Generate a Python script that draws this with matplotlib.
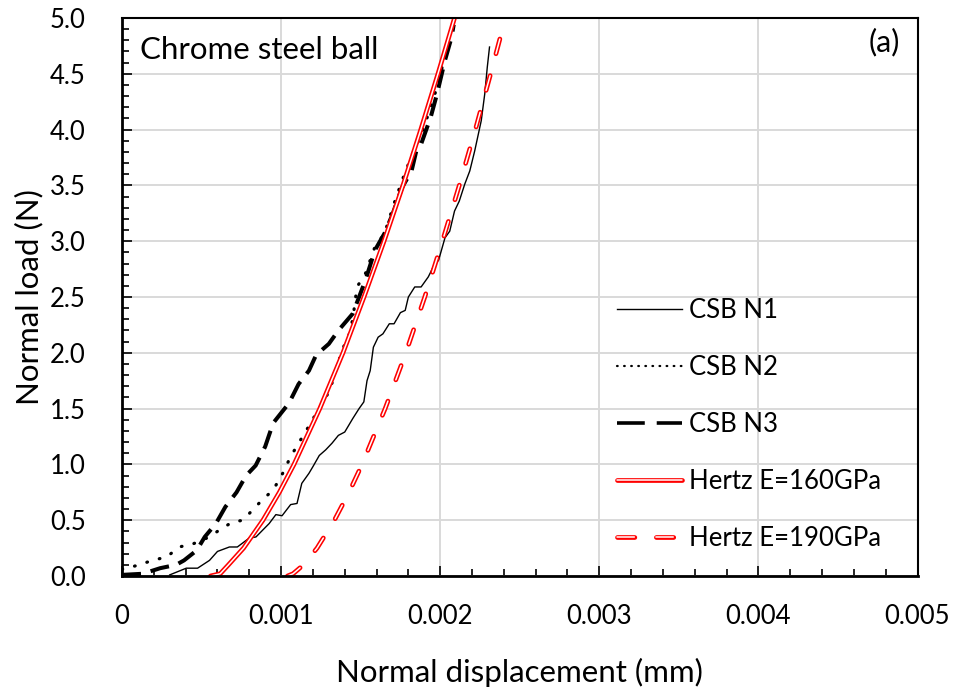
import matplotlib
matplotlib.use('Agg')
import matplotlib.pyplot as plt
from matplotlib.lines import Line2D
from matplotlib.legend_handler import HandlerTuple
from matplotlib.ticker import MultipleLocator

plt.rcParams['font.family'] = ['Lato', 'DejaVu Sans']
plt.rcParams['lines.scale_dashes'] = False

# CSB N1 (thin solid)
n1_x = [0.00030, 0.000404, 0.000475, 0.00055, 0.00060, 0.000675, 0.000725, 0.00080, 0.000842,
        0.000925, 0.000967, 0.001006, 0.00106, 0.00110, 0.00113, 0.001175, 0.00120, 0.00124,
        0.00128, 0.00132, 0.00136, 0.00140, 0.00145, 0.00149, 0.00152, 0.00154, 0.00156,
        0.00158, 0.00161, 0.00164, 0.00168, 0.00171, 0.00175, 0.00178, 0.00180, 0.00184,
        0.00188, 0.001925, 0.00196, 0.00199, 0.00203, 0.00206, 0.00209, 0.00212, 0.002154,
        0.002186, 0.002217, 0.002258, 0.00228, 0.002296, 0.00231]
n1_y = [0.01, 0.07, 0.07, 0.14, 0.22, 0.26, 0.26, 0.34, 0.35,
        0.47, 0.55, 0.54, 0.64, 0.65, 0.83, 0.92, 0.98, 1.08,
        1.13, 1.19, 1.26, 1.29, 1.41, 1.50, 1.56, 1.75, 1.84,
        2.05, 2.14, 2.17, 2.26, 2.26, 2.36, 2.38, 2.50, 2.59,
        2.59, 2.68, 2.78, 2.83, 3.03, 3.09, 3.27, 3.36, 3.51,
        3.63, 3.81, 4.08, 4.32, 4.56, 4.74]

# CSB N2 (dotted)
n2_x = [0.0, 0.00011, 0.00019, 0.00028, 0.00036, 0.00045, 0.00055, 0.00061, 0.00069, 0.00076,
        0.00082, 0.00088, 0.00095, 0.00101, 0.00106, 0.00111, 0.001165, 0.00123, 0.00127,
        0.00131, 0.00134, 0.00137, 0.00140, 0.001436, 0.001456, 0.001477, 0.00153, 0.00159,
        0.00165, 0.00172, 0.00177, 0.00183, 0.00188, 0.00194, 0.00198, 0.00203, 0.00207]
n2_y = [0.06, 0.10, 0.14, 0.17, 0.26, 0.29, 0.35, 0.41, 0.48, 0.50,
        0.59, 0.68, 0.77, 0.92, 1.07, 1.19, 1.32, 1.48, 1.57,
        1.68, 1.83, 1.96, 2.08, 2.19, 2.36, 2.59, 2.71, 2.95,
        3.07, 3.38, 3.58, 3.80, 3.95, 4.20, 4.38, 4.66, 4.86]

# CSB N3 (thick dashed)
n3_x = [0.0, 0.00013, 0.00024, 0.00034, 0.00039, 0.00047, 0.00052, 0.00059, 0.00065, 0.00072,
        0.00078, 0.00084, 0.00090, 0.00095, 0.00105, 0.00111, 0.001175, 0.00122, 0.00130,
        0.00136, 0.00145, 0.00149, 0.00153, 0.00159, 0.00165, 0.00170, 0.00176, 0.00182,
        0.00185, 0.00188, 0.00194, 0.00198, 0.00203, 0.00207, 0.002085]
n3_y = [0.01, 0.02, 0.07, 0.10, 0.14, 0.23, 0.35, 0.47, 0.62, 0.75,
        0.90, 0.99, 1.16, 1.37, 1.55, 1.72, 1.84, 1.98, 2.08,
        2.20, 2.35, 2.50, 2.65, 2.92, 3.07, 3.24, 3.48, 3.63,
        3.81, 3.87, 4.11, 4.32, 4.62, 4.82, 4.94]

# Hertz E=160GPa
h160_x = [0.000556, 0.000617, 0.000669, 0.000764, 0.000886, 0.000989, 0.001081, 0.001243,
          0.001389, 0.001521, 0.001647, 0.001766, 0.001878, 0.001986, 0.00209]
h160_y = [0.0, 0.02, 0.1, 0.25, 0.5, 0.75, 1.0, 1.5, 2.0, 2.5, 3.0, 3.5, 4.0, 4.5, 5.0]

# Hertz E=190GPa
h190_x = [0.00104, 0.001075, 0.001141, 0.001226, 0.001335, 0.001427, 0.001509, 0.001654,
          0.001784, 0.001903, 0.002014, 0.00212, 0.002221, 0.002317, 0.00241]
h190_y = [0.0, 0.02, 0.1, 0.25, 0.5, 0.75, 1.0, 1.5, 2.0, 2.5, 3.0, 3.5, 4.0, 4.5, 5.0]

red = '#ff0000'
h_dash = (0, (11, 16.3))
n3_dash = (0, (13.7, 7.2))
n2_dot = (0, (0.5, 8.8))

fig = plt.figure(figsize=(9.56, 6.93), dpi=100)
ax = fig.add_axes([122 / 956, 1 - 576 / 693, (917.5 - 122) / 956, (576 - 18) / 693])

ax.plot(n1_x, n1_y, color='black', lw=1.0)
ax.plot(n2_x, n2_y, color='black', lw=2.3, linestyle=n2_dot, dash_capstyle='round')
ax.plot(n3_x, n3_y, color='black', lw=2.9, linestyle=n3_dash, dash_capstyle='butt')
ax.plot(h160_x, h160_y, color=red, lw=3.4, solid_capstyle='round')
ax.plot(h160_x, h160_y, color='white', lw=1.1, solid_capstyle='round')
ax.plot(h190_x, h190_y, color=red, lw=3.4, linestyle=h_dash, dash_capstyle='round')
ax.plot(h190_x, h190_y, color='white', lw=1.1, linestyle=h_dash, dash_capstyle='round')

ax.set_xlim(0, 0.005)
ax.set_ylim(0, 5.0)
ax.xaxis.set_minor_locator(MultipleLocator(0.0002))
ax.yaxis.set_minor_locator(MultipleLocator(0.1))
ax.set_xticks([0, 0.001, 0.002, 0.003, 0.004, 0.005])
ax.set_xticklabels(['0', '0.001', '0.002', '0.003', '0.004', '0.005'])
ax.set_yticks([0.5 * i for i in range(11)])
ax.set_yticklabels(['%.1f' % (0.5 * i) for i in range(11)])

ax.grid(True, which='major', color='#d9d9d9', lw=1.4)
ax.set_axisbelow(True)
ax.tick_params(which='both', direction='in', top=False, right=False, color='black')
ax.tick_params(which='major', length=7, width=1.2, labelsize=18.5)
ax.tick_params(which='minor', length=5, width=1.2)
ax.tick_params(axis='x', which='major', pad=20)
ax.tick_params(axis='y', which='major', pad=26)
for s in ['left', 'bottom']:
    ax.spines[s].set_linewidth(2.0)
for s in ['top', 'right']:
    ax.spines[s].set_linewidth(1.5)

ax.set_xlabel('Normal displacement (mm)', fontsize=22.5, labelpad=21)
ax.set_ylabel('Normal load (N)', fontsize=22.5, labelpad=5)

ax.text(0.0225, 0.9267, 'Chrome steel ball', transform=ax.transAxes, fontsize=22.5, va='baseline')
ax.text(0.978, 0.956, '(a)', transform=ax.transAxes, fontsize=22, va='center', ha='right')

hd_n1 = Line2D([], [], color='black', lw=1.0)
hd_n2 = Line2D([], [], color='black', lw=1.6, linestyle=(0, (0.5, 4.6)), dash_capstyle='round')
hd_n3 = Line2D([], [], color='black', lw=2.6, linestyle=(0, (20, 8.6)), dash_capstyle='butt')
hd_h160 = (Line2D([], [], color=red, lw=3.4, solid_capstyle='round'),
           Line2D([], [], color='white', lw=1.1, solid_capstyle='round'))
hd_h190 = (Line2D([], [], color=red, lw=3.4, linestyle=(0, (12.5, 15.5)), dash_capstyle='round'),
           Line2D([], [], color='white', lw=1.1, linestyle=(0, (12.5, 15.5)), dash_capstyle='round'))

ax.legend([hd_n1, hd_n2, hd_n3, hd_h160, hd_h190],
          ['CSB N1', 'CSB N2', 'CSB N3', 'Hertz E=160GPa', 'Hertz E=190GPa'],
          handler_map={tuple: HandlerTuple(ndivide=1)},
          loc='upper left', bbox_to_anchor=(0.622, 0.499), frameon=False,
          fontsize=18.5, handlelength=2.53, handletextpad=0.27, labelspacing=1.25,
          borderpad=0, borderaxespad=0)

fig.savefig('out.png', dpi=100)
